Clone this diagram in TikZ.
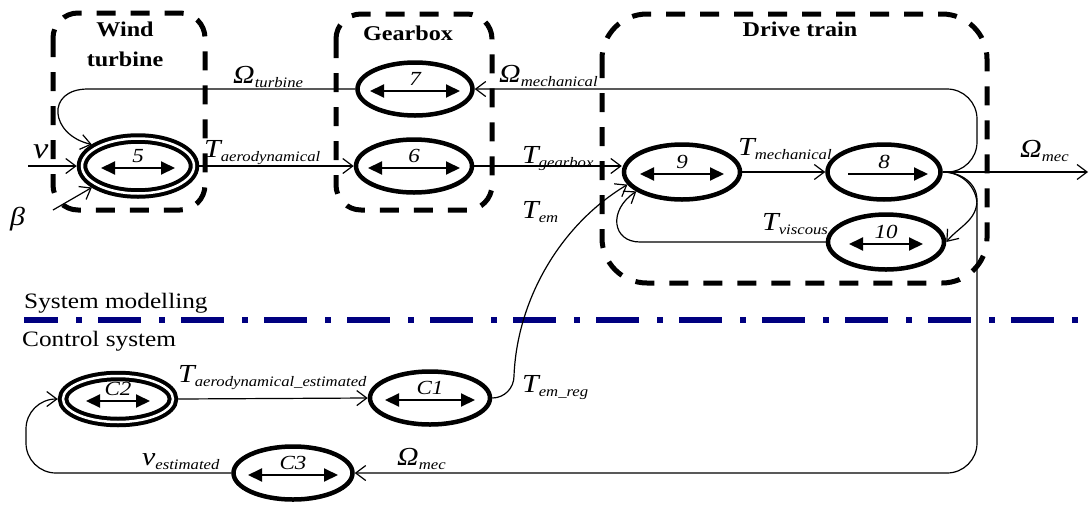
\documentclass[tikz,border=0pt]{standalone}
\usepackage{fontspec}
\setmainfont{Liberation Serif}[FakeStretch=1.15]
\usetikzlibrary{arrows.meta,shapes.geometric}
\definecolor{navy}{RGB}{0,0,128}
\newcommand{\subfont}{\fontsize{14.5}{16}\selectfont}
\newcommand{\sig}[2]{#1\raisebox{-4pt}{\subfont #2}}
\newcommand{\unit}[6][]{
	\node[elem,#1] (#2) at (#3,#4) {};
	\node[num] (#2n) at (#3,#4+10) {#5};
	\draw[inarrow] (#3-#6,#4-2) -- (#3+#6,#4-2);
}

\begin{document}
\begin{tikzpicture}[x=1pt,y=1pt,
	elem/.style={ellipse,draw,line width=4.5pt,minimum width=116pt,minimum height=53pt,inner sep=0pt,outer sep=2.25pt},
	dbl/.style={double,double distance=2.5pt,line width=4pt,outer sep=5.25pt},
	num/.style={font=\fontsize{20}{22}\selectfont\itshape,inner sep=0pt},
	inarrow/.style={line width=2pt,{Triangle[length=14pt,width=13pt]}-{Triangle[length=14pt,width=13pt]}},
	conn/.style={line width=1.2pt,-{Straight Barb[length=10pt,width=15pt]}},
	group/.style={dash pattern=on 19pt off 15pt,line width=5pt,rounded corners=25pt},
	ttl/.style={font=\fontsize{21}{30}\selectfont\bfseries,align=center},
	lbl/.style={font=\fontsize{26}{28}\selectfont\itshape,inner sep=0pt,anchor=base west},
	txt/.style={font=\fontsize{22}{24}\selectfont,inner sep=0pt,anchor=base west},
	sep/.style={navy,line width=6pt,dash pattern=on 43pt off 18pt on 6pt off 16pt,dash phase=9pt}]
	\useasboundingbox (0,0) rectangle (1090,-504);

	% dashed groups
	\draw[group] (53,-13) rectangle (205,-210);
	\draw[group] (336,-14) rectangle (492,-210);
	\draw[group,rounded corners=45pt] (602,-14) rectangle (987,-283);
	\node[ttl] (tWind) at (125,-44) {Wind\\turbine};
	\node[ttl] (tGear) at (408,-33) {Gearbox};
	\node[ttl] (tDrive) at (800,-29) {Drive train};

	% elements
	\unit[dbl,minimum width=112pt,minimum height=55pt]{e5}{138}{-166}{5}{37}
	\unit[minimum width=115pt]{e7}{415}{-89}{7}{45}
	\unit{e6}{414}{-166}{6}{46}
	\unit[minimum height=55pt]{e9}{682}{-172}{9}{42}
	\node[elem,minimum width=113pt,minimum height=55pt] (e8) at (884,-172) {};
	\node[num] (e8n) at (884,-162) {8};
	\draw[line width=2pt,-{Triangle[length=14pt,width=13pt]}] (848,-174) -- (928,-174);
	\unit[minimum height=55pt]{e10}{886}{-242}{10}{37}
	\unit[dbl,minimum width=110pt,minimum height=46pt]{c2}{118}{-399}{C2}{32}
	\unit[minimum width=120pt]{c1}{430}{-398}{C1}{45}
	\unit[minimum width=119pt]{c3}{293}{-473}{C3}{45}

	% system modelling
	\coordinate (vin) at (28,-166);
	\coordinate (betain) at (53,-210);
	\coordinate (omout) at (1088,-172);
	\draw[conn] (vin) -- (e5.west);
	\draw[conn] (betain) -- (e5.205);
	\draw[conn] (e7.west) -- (88,-89) .. controls (45,-89) and (50,-135) .. (e5.155);
	\draw[conn] (e5.east) -- (e6.west);
	\draw[conn] (e6.east) -- (e9.west |- e6.east);
	\draw[conn] (e9.east) -- (e8.west);
	\draw[conn] (e8.east) -- (omout);
	\draw[conn,rounded corners=30pt] (e8.east) -- (977,-172) -- (977,-89) -- (e7.east);
	\draw[conn] (e8.east) to[out=0,in=90] (977,-200) to[out=-90,in=50] (e10.east);
	\draw[conn] (e10.west) -- (640,-242) .. controls (612,-242) and (608,-210) .. (e9.203);
	\node[lbl,font=\fontsize{30}{32}\selectfont\itshape] (lv) at (33,-158) {v};
	\node[lbl] (lbeta) at (10,-225) {β};
	\node[lbl] (lOt) at (233,-83) {\sig{Ω}{turbine}};
	\node[lbl] (lTa) at (204,-157) {\sig{T}{aerodynamical}};
	\node[lbl] (lOm) at (499,-82) {\sig{Ω}{mechanical}};
	\node[lbl] (lTg) at (522,-163) {\sig{T}{gearbox}};
	\node[lbl] (lTe) at (522,-218) {\sig{T}{em}};
	\node[lbl] (lTm) at (738,-155) {\sig{T}{mechanical}};
	\node[lbl] (lTv) at (762,-230) {\sig{T}{viscous}};
	\node[lbl] (lOo) at (1020,-157) {\sig{Ω}{mec}};

	% separation
	\draw[sep] (24,-320) -- (1090,-320);
	\node[txt] (sysmod) at (24,-308) {System modelling};
	\node[txt] (ctrl) at (22,-346) {Control system};

	% control system
	\draw[conn] (c2.east) -- (c1.west);
	\draw[conn] (c1.east) to[out=0,in=-90] (514,-376) .. controls (517,-300) and (560,-225) .. (e9.193);
	\draw[conn] (e8.east) to[out=0,in=90] (977,-205) [rounded corners=30pt] -- (977,-473) -- (c3.east);
	\draw[conn,rounded corners=30pt] (c3.west) -- (26,-473) -- (26,-399) -- (c2.west);
	\node[lbl] (lTae) at (178,-382) {\sig{T}{aerodynamical\_estimated}};
	\node[lbl] (lTr) at (522,-392) {\sig{T}{em\_reg}};
	\node[lbl] (lve) at (142,-465) {\sig{v}{estimated}};
	\node[lbl] (lOc) at (397,-465) {\sig{Ω}{mec}};
\end{tikzpicture}
\end{document}
